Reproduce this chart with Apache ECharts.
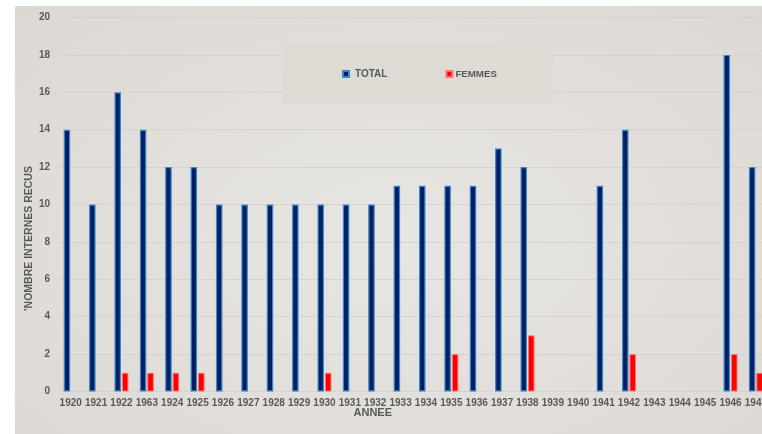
<!DOCTYPE html>
<html>
<head>
<meta charset="utf-8">
<script src="https://cdn.jsdelivr.net/npm/echarts@6/dist/echarts.min.js"></script>
<style>
  html, body { margin: 0; padding: 0; background: #ffffff; overflow: hidden; width: 762px; height: 434px; }
  #panel { position: absolute; left: 15px; top: 6px; width: 760px; height: 428px;
    background: radial-gradient(ellipse at 50% 55%, #e8e6e2 0%, #e2dfdb 55%, #dbd8d3 100%); }
  #chart { position: absolute; left: 0; top: 0; width: 770px; height: 434px; }
</style>
</head>
<body>
<div id="panel"></div>
<div id="chart"></div>
<script>
const categories = ['1920','1921','1922','1963','1924','1925','1926','1927','1928','1929','1930','1931','1932','1933','1934','1935','1936','1937','1938','1939','1940','1941','1942','1943','1944','1945','1946','1947'];
const totalValues = [14,10,16,14,12,12,10,10,10,10,10,10,10,11,11,11,11,13,12,null,null,11,14,null,null,null,18,12];
const femmesValues = [null,null,1,1,1,1,null,null,null,null,1,null,null,null,null,2,null,null,3,null,null,null,2,null,null,null,2,1];
const yTicks = { min: 0, max: 20, interval: 2 };

const chart = echarts.init(document.getElementById('chart'), null, { renderer: 'canvas' });
const txt = '#595959';
chart.setOption({
  backgroundColor: 'transparent',
  animation: false,
  grid: { left: 58, right: 1, top: 17.5, bottom: 42.5 },
  legend: {
    left: 282, top: 45,
    padding: [24, 56, 24, 60],
    backgroundColor: '#dedbd4',
    itemWidth: 6, itemHeight: 6, itemGap: 58,
    icon: 'rect',
    textStyle: { color: txt, fontFamily: 'Liberation Sans', fontWeight: 'bold', fontSize: 10 },
    data: [
      { name: 'TOTAL', textStyle: { padding: [0, 0, 0, 1] } },
      { name: 'FEMMES', textStyle: { padding: [0, 0, 0, -2], fontSize: 9.7 } }
    ]
  },
  xAxis: {
    type: 'category',
    data: categories,
    name: 'ANNEE',
    nameLocation: 'middle',
    nameGap: 16,
    nameMoveOverlap: false,
    nameTextStyle: { color: txt, fontFamily: 'Liberation Sans', fontWeight: 'bold', fontSize: 11, padding: [0, 81, 0, 0] },
    axisLine: { lineStyle: { color: '#d6d3ce' } },
    axisTick: { show: false },
    axisLabel: { color: txt, fontFamily: 'Liberation Sans', fontWeight: 'bold', fontSize: 10, margin: 7, interval: 0 }
  },
  yAxis: {
    type: 'value',
    min: yTicks.min, max: yTicks.max, interval: yTicks.interval,
    name: "'NOMBRE INTERNES RECUS",
    nameLocation: 'middle',
    nameGap: 23,
    nameMoveOverlap: false,
    nameRotate: 90,
    nameTextStyle: { color: txt, fontFamily: 'Liberation Sans', fontWeight: 'bold', fontSize: 10.5, padding: [0, 68, 0, 0] },
    axisLine: { show: false },
    axisTick: { show: false },
    splitLine: { lineStyle: { color: '#d6d3ce', width: 1 } },
    axisLabel: { color: txt, fontFamily: 'Liberation Sans', fontWeight: 'bold', fontSize: 10, margin: 8 }
  },
  series: [
    {
      name: 'TOTAL', type: 'bar', data: totalValues,
      barWidth: 6.5, barGap: '15%',
      itemStyle: { color: '#002060', borderColor: '#3a86d0', borderWidth: 1.2 }
    },
    {
      name: 'FEMMES', type: 'bar', data: femmesValues,
      barWidth: 6.5,
      itemStyle: { color: '#ff0000', borderColor: '#ff7070', borderWidth: 1 }
    }
  ]
});
</script>
</body>
</html>
